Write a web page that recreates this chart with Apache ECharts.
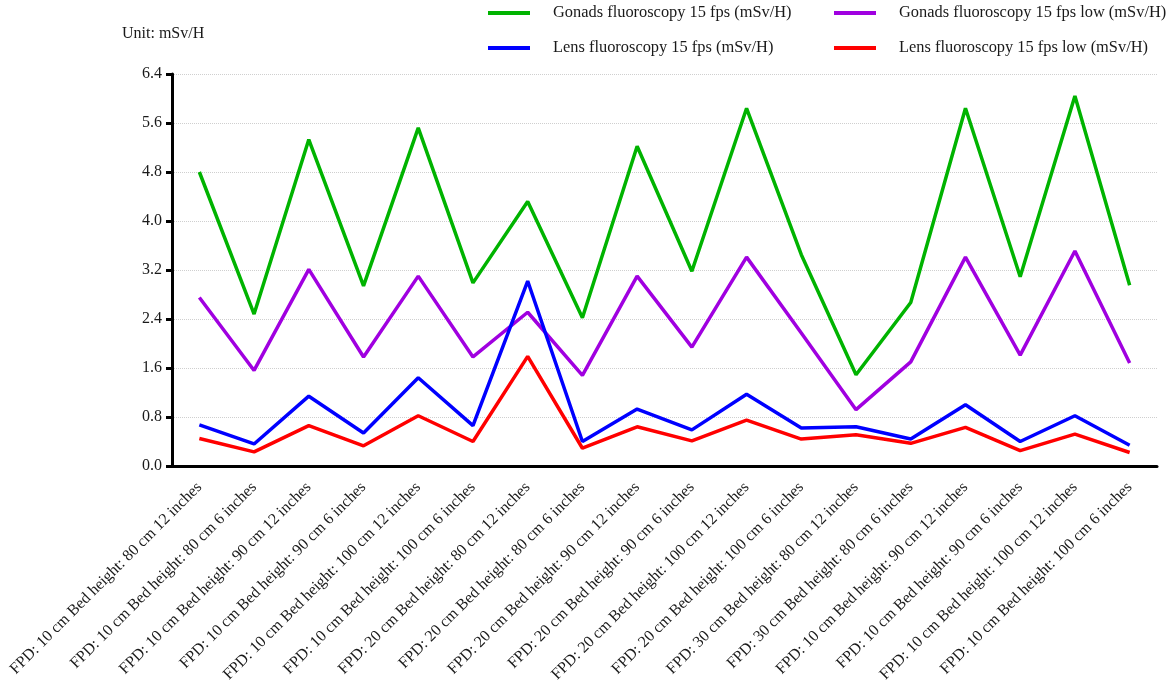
<!DOCTYPE html>
<html>
<head>
<meta charset="utf-8">
<script src="https://cdn.jsdelivr.net/npm/echarts@6/dist/echarts.min.js"></script>
<style>
html,body{margin:0;padding:0;background:#fff;}
#chart{width:1170px;height:691px;}
</style>
</head>
<body>
<div id="chart"></div>
<script>
var categories = [
  'FPD: 10 cm Bed height: 80 cm 12 inches',
  'FPD: 10 cm Bed height: 80 cm 6 inches',
  'FPD: 10 cm Bed height: 90 cm 12 inches',
  'FPD: 10 cm Bed height: 90 cm 6 inches',
  'FPD: 10 cm Bed height: 100 cm 12 inches',
  'FPD: 10 cm Bed height: 100 cm 6 inches',
  'FPD: 20 cm Bed height: 80 cm 12 inches',
  'FPD: 20 cm Bed height: 80 cm 6 inches',
  'FPD: 20 cm Bed height: 90 cm 12 inches',
  'FPD: 20 cm Bed height: 90 cm 6 inches',
  'FPD: 20 cm Bed height: 100 cm 12 inches',
  'FPD: 20 cm Bed height: 100 cm 6 inches',
  'FPD: 30 cm Bed height: 80 cm 12 inches',
  'FPD: 30 cm Bed height: 80 cm 6 inches',
  'FPD: 10 cm Bed height: 90 cm 12 inches',
  'FPD: 10 cm Bed height: 90 cm 6 inches',
  'FPD: 10 cm Bed height: 100 cm 12 inches',
  'FPD: 10 cm Bed height: 100 cm 6 inches'
];
var seriesNames = [
  'Gonads fluoroscopy 15 fps (mSv/H)',
  'Gonads fluoroscopy 15 fps low (mSv/H)',
  'Lens fluoroscopy 15 fps (mSv/H)',
  'Lens fluoroscopy 15 fps low (mSv/H)'
];
var gonads    = [4.80, 2.48, 5.33, 2.94, 5.52, 2.99, 4.32, 2.42, 5.22, 3.18, 5.84, 3.45, 1.49, 2.67, 5.84, 3.09, 6.04, 2.95];
var gonadsLow = [2.75, 1.56, 3.21, 1.78, 3.10, 1.78, 2.51, 1.48, 3.10, 1.94, 3.41, 2.17, 0.92, 1.70, 3.41, 1.81, 3.51, 1.68];
var lens      = [0.67, 0.36, 1.14, 0.54, 1.44, 0.66, 3.02, 0.40, 0.93, 0.59, 1.17, 0.62, 0.64, 0.44, 1.00, 0.40, 0.82, 0.34];
var lensLow   = [0.45, 0.23, 0.66, 0.33, 0.82, 0.40, 1.79, 0.29, 0.64, 0.41, 0.75, 0.44, 0.51, 0.37, 0.63, 0.25, 0.52, 0.22];
var yMin = 0, yMax = 6.4, yStep = 0.8;
var unitText = 'Unit: mSv/H';

var colors = ['#00B300', '#A000E0', '#0000FF', '#FF0000'];
var font = '"Liberation Serif", "Times New Roman", serif';
var txt = {fontFamily: font, fontSize: 16, color: '#1a1a1a'};

var chart = echarts.init(document.getElementById('chart'));
function line(name, data, color) {
  return {
    name: name, type: 'line', data: data, showSymbol: false, symbol: 'none',
    lineStyle: {color: color, width: 3.5}, itemStyle: {color: color},
    emphasis: {disabled: true}
  };
}
var legendBase = {
  orient: 'vertical', top: 0, itemWidth: 42, itemHeight: 4, itemGap: 19,
  icon: 'rect', selectedMode: false,
  textStyle: {fontFamily: font, fontSize: 16.4, color: '#1a1a1a', padding: [0, 0, 0, 18]}
};
chart.setOption({
  animation: false,
  backgroundColor: '#fff',
  title: {text: unitText, left: 117, top: 21, textStyle: {fontFamily: font, fontSize: 16, fontWeight: 'normal', color: '#1a1a1a'}},
  legend: [
    Object.assign({}, legendBase, {left: 483, data: [seriesNames[0], seriesNames[2]]}),
    Object.assign({}, legendBase, {left: 829, data: [seriesNames[1], seriesNames[3]]})
  ],
  grid: {left: 172, right: 13, top: 74, bottom: 225, containLabel: false},
  xAxis: {
    type: 'category', data: categories, boundaryGap: true,
    axisLine: {lineStyle: {color: '#000', width: 3}},
    axisTick: {alignWithLabel: true, length: 6, lineStyle: {color: '#000', width: 3}},
    axisLabel: Object.assign({rotate: 45, margin: 19, interval: 0}, txt),
    splitLine: {show: false}
  },
  yAxis: {
    type: 'value', min: yMin, max: yMax, interval: yStep,
    axisLine: {show: true, lineStyle: {color: '#000', width: 3}},
    axisTick: {show: true, length: 6, lineStyle: {color: '#000', width: 3}},
    axisLabel: Object.assign({margin: 10, formatter: function(v){return v.toFixed(1);}}, txt),
    splitLine: {show: true, lineStyle: {color: '#cfcfcf', type: 'dotted', width: 1}}
  },
  series: [
    line(seriesNames[0], gonads, colors[0]),
    line(seriesNames[1], gonadsLow, colors[1]),
    line(seriesNames[2], lens, colors[2]),
    line(seriesNames[3], lensLow, colors[3])
  ]
});
</script>
</body>
</html>
